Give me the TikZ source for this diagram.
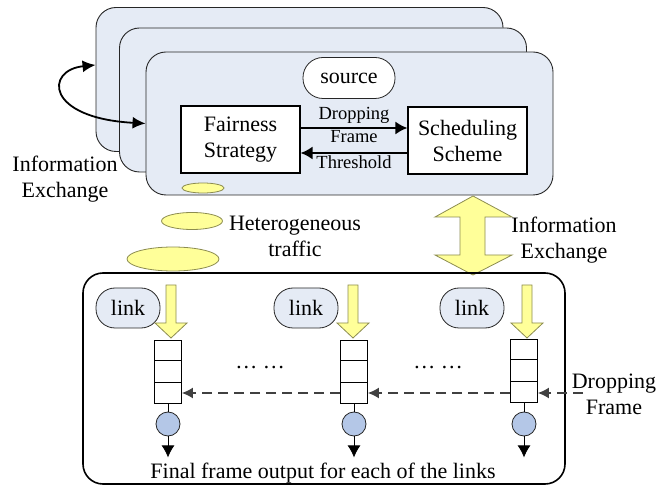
\documentclass[tikz,border=0pt]{standalone}
\usepackage{fontspec}
\setmainfont{Liberation Serif}
\usetikzlibrary{arrows.meta,shapes.geometric}
\definecolor{boxfill}{HTML}{E5EBF5}
\definecolor{yel}{HTML}{FFFF99}
\definecolor{yeldraw}{HTML}{8C8C50}
\definecolor{circfill}{HTML}{B4C7E7}
\definecolor{edgegray}{HTML}{404040}
\begin{document}
\begin{tikzpicture}[x=1pt,y=-1pt,
  font=\fontsize{22}{26}\selectfont,
  panel/.style={draw=black!85,line width=0.9pt,fill=boxfill,rounded corners=20pt,inner sep=0pt,minimum width=407pt,minimum height=144pt},
  whitebox/.style={draw=black,line width=1.1pt,fill=white,inner sep=0pt,minimum width=119pt,minimum height=67pt,align=center},
  pill/.style={draw=black!85,line width=0.8pt,rounded corners=19pt,inner sep=0pt,minimum width=64pt,minimum height=40pt},
  yell/.style={ellipse,draw=yeldraw,line width=0.8pt,fill=yel,inner sep=0pt},
  lbl/.style={align=center,inner sep=0pt},
  small/.style={font=\fontsize{18.5}{22}\selectfont,inner sep=0pt},
  queue/.style={draw=black,line width=0.9pt,fill=white,inner sep=0pt,minimum width=27pt,minimum height=63pt},
  srv/.style={circle,draw=black!85,line width=0.8pt,fill=circfill,inner sep=0pt,minimum size=24pt},
  yarrow/.style={draw=yeldraw,line width=0.8pt,fill=yel,line join=miter},
  tip/.style={-{Latex[length=12pt,width=13pt]}},
  dtip/.style={-{Latex[length=11pt,width=11pt]}},
  otip/.style={-{Latex[length=12pt,width=13pt]}}
]
\useasboundingbox (0,0) rectangle (659,486);

% stacked panels
\node[panel] (box1) at (299.5,79.5) {};
\node[panel] (box2) at (323,100) {};
\node[panel,minimum height=143pt] (box3) at (349.5,123.5) {};

\node[pill,fill=white,minimum width=92pt,minimum height=41pt,rounded corners=20pt] (source) at (349,78) {source};
\node[whitebox] (fair) at (240.5,139.5) {Fairness\\Strategy};
\node[whitebox] (sched) at (467.5,140.5) {Scheduling\\Scheme};

\draw[tip,line width=2pt] ([yshift=11.5pt]fair.east) -- ([yshift=11.5pt]fair.east -| sched.west);
\draw[tip,line width=2pt] ([yshift=-12.5pt]sched.west) -- ([yshift=-12.5pt]sched.west -| fair.east);
\node[small] (ldrop) at (354,115) {Dropping};
\node[small] (lframe) at (354,137) {Frame};
\node[small] (lthr) at (354,162) {Threshold};

\node[yell,minimum width=42pt,minimum height=10pt] (e1) at (203,188) {};
\node[yell,minimum width=61pt,minimum height=17pt] (e2) at (192,221) {};
\node[yell,minimum width=92pt,minimum height=24pt] (e3) at (173,259) {};
\node[lbl] (hetero) at (295,236) {Heterogeneous\\traffic};

% curved information exchange
\draw[{Latex[length=13pt,width=12pt]}-{Latex[length=13pt,width=12pt]},line width=1.8pt]
  ([yshift=14.5pt]box1.west) .. controls (45,70) and (45,118) .. (box3.west);
\node[lbl,text depth=0pt] (infoL) at (65,177) {Information\\Exchange};

% big double arrow
\node[inner sep=0pt] (dtop) at (473,196) {};
\node[inner sep=0pt] (dbot) at (473,275) {};
\draw[yarrow] (dtop.center) -- (512,217) -- (485,217) -- (485,255) -- (512,255) -- (dbot.center)
  -- (435,255) -- (460,255) -- (460,217) -- (435,217) -- cycle;
\node[lbl] (infoR) at (564,240) {Information\\Exchange};

% lower panel
\node[draw=black,line width=1.6pt,rounded corners=20pt,inner sep=0pt,minimum width=482pt,minimum height=211pt] (lower) at (324,378.5) {};

\node[pill,fill=boxfill] (link1) at (128,308) {link};
\node[pill,fill=boxfill] (link2) at (306,308) {link};
\node[pill,fill=boxfill] (link3) at (472,308) {link};

\foreach \cx in {171,353,527}{
  \draw[yarrow] (\cx-5,285) -- (\cx+5,285) -- (\cx+5,323) -- (\cx+16,323) -- (\cx,338)
    -- (\cx-16,323) -- (\cx-5,323) -- cycle;
}

\node[queue] (q1) at (168,371.5) {};
\node[queue] (q2) at (354,371.5) {};
\node[queue] (q3) at (524,370.5) {};
\foreach \q in {q1,q2,q3}{
  \draw[line width=0.9pt] ([yshift=-21pt]\q.north west) -- ([yshift=-21pt]\q.north east);
  \draw[line width=0.9pt] ([yshift=21pt]\q.south west) -- ([yshift=21pt]\q.south east);
}
\node[srv] (s1) at (168,424) {};
\node[srv] (s2) at (354,424) {};
\node[srv] (s3) at (524,424) {};
\foreach \i in {1,2,3}{
  \draw[line width=0.8pt] (q\i.south) -- (s\i.north);
  \coordinate (o\i) at ([yshift=-21pt]s\i.south);
  \draw[otip,line width=0.8pt] (s\i.south) -- (o\i);
}

\node[inner sep=0pt] (dots1) at (260,368) {… …};
\node[inner sep=0pt] (dots2) at (438,368) {… …};

\coordinate (dstart) at (583,393);
\draw[dtip,dashed,dash pattern=on 10pt off 6pt,line width=1.3pt,edgegray] (dstart) -- (dstart -| q3.east);
\draw[dtip,dashed,dash pattern=on 10pt off 6pt,line width=1.3pt,edgegray] (dstart -| q3.west) -- (dstart -| q2.east);
\draw[dtip,dashed,dash pattern=on 10pt off 6pt,line width=1.3pt,edgegray] (dstart -| q2.west) -- (dstart -| q1.east);
\node[lbl] (dropR) at (614,394) {Dropping\\Frame};

\node[inner sep=0pt] (final) at (323,473) {Final frame output for each of the links};
\end{tikzpicture}
\end{document}
